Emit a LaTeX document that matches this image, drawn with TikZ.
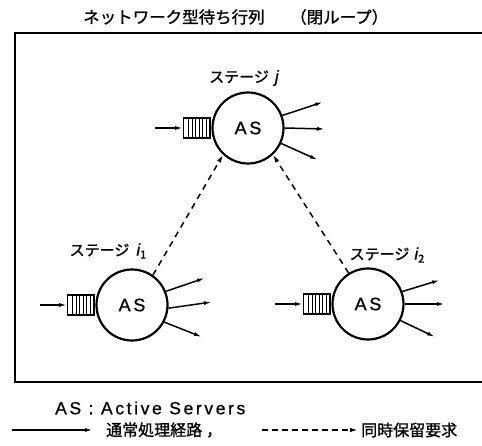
\documentclass[tikz,border=0pt]{standalone}
\usepackage{fontspec}
\setmainfont{Liberation Sans}
\newfontfamily\jp[FakeBold=1.2]{Noto Sans CJK JP}
\newfontfamily\lat[LetterSpace=15,FakeBold=0.8]{Liberation Sans}
\newfontfamily\latit[FakeBold=0.8]{Liberation Sans Italic}
\usetikzlibrary{arrows.meta,calc}
\tikzset{
 srv/.style={circle, draw, line width=2.2pt, minimum size=71pt, inner sep=0pt, font=\lat\fontsize{18}{20}\selectfont},
 que/.style={draw, line width=1.3pt, minimum width=27pt, minimum height=20pt, inner sep=0pt, anchor=east,
   path picture={\foreach \k in {0.18,0.31,0.44,0.57,0.70,0.83,0.96}
     \draw[line width=1pt] ($(path picture bounding box.south west)!\k!(path picture bounding box.south east)$) -- ($(path picture bounding box.north west)!\k!(path picture bounding box.north east)$);}},
 flow/.style={line width=1.5pt, -{Latex[length=8pt,width=4pt]}},
 req/.style={line width=1.5pt, dash pattern=on 6pt off 5pt, -{Latex[length=8pt,width=4.5pt]}},
 lbl/.style={font=\jp\fontsize{15}{17}\selectfont, inner sep=0pt},
 ttl/.style={font=\jp\fontsize{16.5}{19}\selectfont, inner sep=0pt, anchor=west},
 leg/.style={font=\jp\fontsize{16}{19}\selectfont, inner sep=0pt, anchor=west},
 frame/.style={line width=2.2pt},
}
\begin{document}
\begin{tikzpicture}[x=1pt,y=-1pt]
\useasboundingbox (0,0) rectangle (482,446);
% title
\node[ttl] (t1) at (83,17) {ネットワーク型待ち行列};
\node[ttl] (t2) at (290,17) {（閉ループ）};
% frame
\coordinate (f1) at (484,33);
\coordinate (f2) at (15,33);
\coordinate (f3) at (15,382);
\coordinate (f4) at (484,382);
\draw[frame] (f1) -- (f2) -- (f3) -- (f4);
% servers
\node[srv] (j) at (248,128) {AS};
\node[srv] (i1) at (132,305) {AS};
\node[srv] (i2) at (368,304) {AS};
% queues
\node[que] (qj) at (j.west) {};
\node[que] (qi1) at (i1.west) {};
\node[que] (qi2) at (i2.west) {};
\coordinate (inj) at ($(qj.west)+(-28,0)$);
\coordinate (ini1) at ($(qi1.west)+(-27,0)$);
\coordinate (ini2) at ($(qi2.west)+(-28,0)$);
\draw[flow] (inj) -- (qj.west);
\draw[flow] (ini1) -- (qi1.west);
\draw[flow] (ini2) -- (qi2.west);
% labels
\node[lbl] (lj) at (244,78) {ステージ\hspace{6pt}{\latit\fontsize{17}{17}\selectfont j}};
\node[lbl] (li1) at (108,251) {ステージ\hspace{7pt}{\latit\fontsize{17}{17}\selectfont i}\raisebox{-3pt}{\fontsize{11}{11}\selectfont 1}};
\node[lbl] (li2) at (387,255) {ステージ\hspace{5pt}{\latit\fontsize{17}{17}\selectfont i}\raisebox{-3pt}{\fontsize{11}{11}\selectfont 2}};
% outputs
\coordinate (oj1) at (323,102);
\coordinate (oj2) at (325,129);
\coordinate (oj3) at (318,160);
\draw[flow] (j.20) -- (oj1);
\draw[flow] (j.0) -- (oj2);
\draw[flow] (j.-25) -- (oj3);
\coordinate (oa1) at (205,278);
\coordinate (oa2) at (212,302);
\coordinate (oa3) at (202,337);
\draw[flow] (i1.22) -- (oa1);
\draw[flow] (i1.-5) -- (oa2);
\draw[flow] (i1.-28) -- (oa3);
\coordinate (ob1) at (440,280);
\coordinate (ob2) at (445,304);
\coordinate (ob3) at (435,337);
\draw[flow] (i2.20) -- (ob1);
\draw[flow] (i2.0) -- (ob2);
\draw[flow] (i2.-27) -- (ob3);
% requests
\draw[req] (i1.55) -- (j.227);
\draw[req] (i2.122) -- (j.313);
% legend
\node[inner sep=0pt, anchor=west, font=\lat\fontsize{17.5}{20}\selectfont] (l1) at (55,408) {AS : Active Servers};
\coordinate (la) at (12,430);
\coordinate (lb) at (93,430);
\draw[flow] (la) -- (lb);
\node[leg] (l2) at (106,430) {通常処理経路\hspace{4pt}，};
\coordinate (lc) at (262,430);
\coordinate (ld) at (358,430);
\draw[req, dash pattern=on 6pt off 4pt] (lc) -- (ld);
\node[leg] (l3) at (361,430) {同時保留要求};
\end{tikzpicture}
\end{document}
